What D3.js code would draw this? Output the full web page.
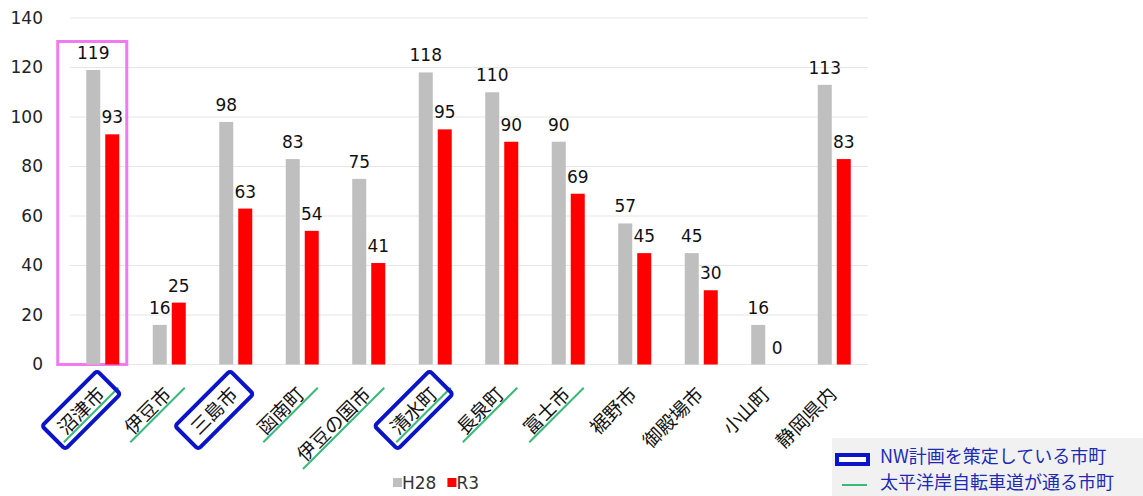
<!DOCTYPE html>
<html>
<head>
<meta charset="utf-8">
<script src="https://cdn.jsdelivr.net/npm/d3@7"></script>
<style>
  body { margin: 0; background: #fff; }
  text { font-family: "DejaVu Sans", Verdana, sans-serif; }
  .jp { font-family: "Noto Sans CJK JP", "Noto Sans", sans-serif; }
</style>
</head>
<body>
<svg id="chart" width="1143" height="496"></svg>
<script>
// data
var categories = ["沼津市", "伊豆市", "三島市", "函南町", "伊豆の国市", "清水町", "長泉町", "富士市", "裾野市", "御殿場市", "小山町", "静岡県内"];
var seriesNames = ["H28", "R3"];
var h28 = [119, 16, 98, 83, 75, 118, 110, 90, 57, 45, 16, 113];
var r3 = [93, 25, 63, 54, 41, 95, 90, 69, 45, 30, 0, 83];
var yTicks = [0, 20, 40, 60, 80, 100, 120, 140];
var nwPlan = ["沼津市", "三島市", "清水町"];           // blue box
var cycleRoute = ["沼津市", "伊豆市", "函南町", "伊豆の国市", "清水町", "長泉町", "富士市"]; // green line
var highlight = "沼津市";                               // pink frame
var legendNotes = ["NW計画を策定している市町", "太平洋岸自転車道が通る市町"];

var colors = { H28: "#bfbfbf", R3: "#ff0000" };
var blue = "#0a14c8", green = "#3cb878", pink = "#f07af0";

var margin = { top: 18, left: 70 };
var width = 798, height = 346.5;

var svg = d3.select("#chart");
var g = svg.append("g")
  .attr("transform", "translate(" + margin.left + "," + margin.top + ")");

var x0 = d3.scaleBand().domain(categories).range([0, width]);
var x1 = d3.scaleBand().domain(seriesNames).range([-17, 16]).paddingInner(0.263);
var y = d3.scaleLinear().domain([0, 140]).range([height, 0]);

// gridlines
g.selectAll(".grid")
  .data(yTicks)
  .enter()
  .append("line")
  .attr("x1", 0)
  .attr("x2", width)
  .attr("y1", function(d) { return y(d); })
  .attr("y2", function(d) { return y(d); })
  .attr("stroke", "#e6e6e6")
  .attr("stroke-width", 1);

// y axis labels
var yAxis = d3.axisLeft(y).tickValues(yTicks).tickSize(0).tickPadding(27);
g.append("g")
  .call(yAxis)
  .call(function(a) { a.select(".domain").remove(); })
  .selectAll("text")
  .attr("font-size", 17)
  .attr("font-family", "DejaVu Sans, sans-serif")
  .attr("fill", "#222");

// rows of bars
var rows = categories.map(function(c, i) {
  return { cat: c, values: [{ key: "H28", v: h28[i] }, { key: "R3", v: r3[i] }] };
});

// pink frame around highlighted city
var hx = x0(highlight) + x0.bandwidth() / 2;
g.append("rect")
  .attr("x", hx - 45.5)
  .attr("y", y(130.5))
  .attr("width", 69)
  .attr("height", y(0) - y(130.5))
  .attr("fill", "none")
  .attr("stroke", pink)
  .attr("stroke-width", 3);

var groups = g.selectAll(".grp")
  .data(rows)
  .enter()
  .append("g")
  .attr("transform", function(d) { return "translate(" + (x0(d.cat) + x0.bandwidth() / 2) + ",0)"; });

groups.selectAll("rect")
  .data(function(d) { return d.values; })
  .enter()
  .append("rect")
  .attr("x", function(d) { return x1(d.key); })
  .attr("width", x1.bandwidth())
  .attr("y", function(d) { return y(d.v); })
  .attr("height", function(d) { return y(0) - y(d.v); })
  .attr("fill", function(d) { return colors[d.key]; });

groups.selectAll(".val")
  .data(function(d) { return d.values; })
  .enter()
  .append("text")
  .attr("x", function(d) { return x1(d.key) + x1.bandwidth() / 2; })
  .attr("y", function(d) { return y(d.v) - 11; })
  .attr("text-anchor", "middle")
  .attr("font-size", 17)
  .attr("fill", "#111")
  .text(function(d) { return d.v; });

// category labels, rotated
var fs = 19;
var labels = g.selectAll(".cat")
  .data(categories)
  .enter()
  .append("g")
  .attr("transform", function(d) {
    return "translate(" + (x0(d) + x0.bandwidth() / 2 + 3) + "," + (height + 31) + ") rotate(-45)";
  });

labels.append("text")
  .attr("class", "jp")
  .attr("text-anchor", "end")
  .attr("font-size", fs)
  .attr("fill", "#111")
  .text(function(d) { return d; });

labels.each(function(d) {
  var sel = d3.select(this);
  var L = sel.select("text").node().getComputedTextLength();
  if (cycleRoute.indexOf(d) >= 0) {
    sel.append("line")
      .attr("x1", -L - 6)
      .attr("x2", 14)
      .attr("y1", 3)
      .attr("y2", 3)
      .attr("stroke", green)
      .attr("stroke-width", 2);
  }
  if (nwPlan.indexOf(d) >= 0) {
    sel.append("rect")
      .attr("x", -L - 10)
      .attr("y", -24)
      .attr("width", L + 21)
      .attr("height", 33)
      .attr("rx", 3)
      .attr("fill", "none")
      .attr("stroke", blue)
      .attr("stroke-width", 4);
  }
});

// bottom legend
var leg = svg.append("g").attr("transform", "translate(393,489)");
var lx = 0;
seriesNames.forEach(function(s) {
  leg.append("rect")
    .attr("x", lx)
    .attr("y", -11)
    .attr("width", 9)
    .attr("height", 9)
    .attr("fill", colors[s]);
  var t = leg.append("text")
    .attr("x", lx + 9)
    .attr("font-size", 17)
    .attr("font-family", "Open Sans, sans-serif")
    .attr("fill", "#333")
    .text(s);
  lx += 9 + t.node().getComputedTextLength() + 11;
});

// note box (bottom right)
var note = svg.append("g").attr("transform", "translate(832,438)");
note.append("rect")
  .attr("width", 311)
  .attr("height", 58)
  .attr("fill", "#f1f1f1");
note.append("rect")
  .attr("x", 5)
  .attr("y", 17)
  .attr("width", 31)
  .attr("height", 9)
  .attr("fill", "#fff")
  .attr("stroke", blue)
  .attr("stroke-width", 4);
note.append("line")
  .attr("x1", 10)
  .attr("x2", 35)
  .attr("y1", 47)
  .attr("y2", 47)
  .attr("stroke", green)
  .attr("stroke-width", 2);
note.selectAll(".note")
  .data(legendNotes)
  .enter()
  .append("text")
  .attr("class", "jp")
  .attr("x", 48)
  .attr("y", function(d, i) { return 25 + i * 26; })
  .attr("font-size", 18)
  .attr("fill", "#1c2ab4")
  .text(function(d) { return d; });
</script>
</body>
</html>
